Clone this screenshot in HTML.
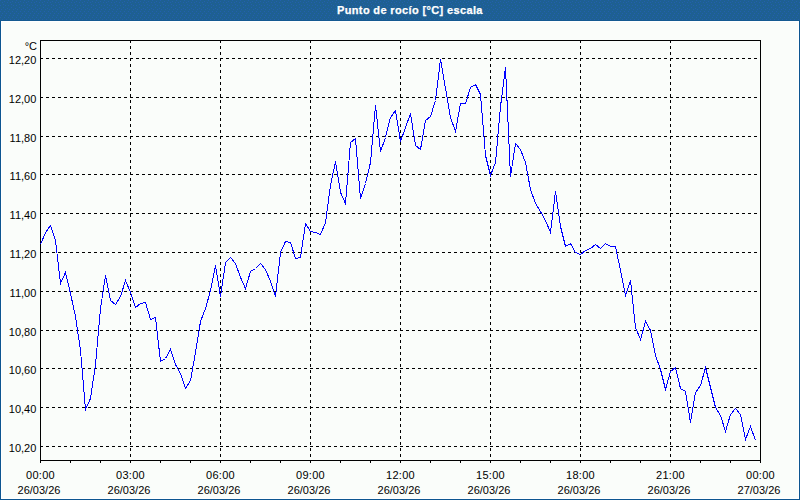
<!DOCTYPE html>
<html><head><meta charset="utf-8"><style>
html,body{margin:0;padding:0;}
body{width:800px;height:500px;position:relative;overflow:hidden;background:#fafdfa;font-family:"Liberation Sans",sans-serif;}
#frame{position:absolute;left:0;top:0;width:798px;height:499px;border-left:1px solid #0c5590;border-right:1px solid #0c5590;border-bottom:1px solid #0c5590;}
#inner{position:absolute;left:1px;top:21px;width:798px;height:478px;border:1px solid #fff;box-sizing:border-box;}
#bar{position:absolute;left:0;top:0;width:800px;height:20px;background:#1e6092;border-bottom:1px solid #145a91;}
#title{position:absolute;left:337px;top:4px;color:#fff;font-weight:bold;font-size:11px;white-space:nowrap;letter-spacing:0.36px;-webkit-text-stroke:0.25px #fff;}
.t{position:absolute;font-size:11px;color:#000;white-space:nowrap;line-height:13px;}
.r{text-align:right;}
.c{width:80px;text-align:center;}
svg{position:absolute;left:0;top:0;}
</style></head><body>
<div id="frame"></div>
<div id="inner"></div>
<div id="bar"></div>
<svg width="800" height="500" viewBox="0 0 800 500" shape-rendering="crispEdges">
<defs><pattern id="dp" width="8" height="20" patternUnits="userSpaceOnUse"><g fill="#2360ae"><rect x="0" y="0" width="1" height="1"/><rect x="4" y="1" width="1" height="1"/><rect x="2" y="2" width="1" height="1"/><rect x="7" y="2" width="1" height="1"/><rect x="3" y="4" width="1" height="1"/><rect x="0" y="5" width="1" height="1"/><rect x="5" y="5" width="1" height="1"/><rect x="3" y="7" width="1" height="1"/><rect x="7" y="8" width="1" height="1"/><rect x="1" y="9" width="1" height="1"/><rect x="5" y="9" width="1" height="1"/><rect x="0" y="11" width="1" height="1"/><rect x="4" y="11" width="1" height="1"/><rect x="2" y="13" width="1" height="1"/><rect x="6" y="13" width="1" height="1"/><rect x="1" y="15" width="1" height="1"/><rect x="5" y="15" width="1" height="1"/><rect x="0" y="17" width="1" height="1"/><rect x="4" y="17" width="1" height="1"/><rect x="2" y="19" width="1" height="1"/><rect x="6" y="19" width="1" height="1"/></g></pattern></defs><rect x="0" y="0" width="800" height="20" fill="url(#dp)"/>
<line x1="40" y1="58.5" x2="760" y2="58.5" stroke="#000" stroke-dasharray="3 3"/>
<line x1="40" y1="97.5" x2="760" y2="97.5" stroke="#000" stroke-dasharray="3 3"/>
<line x1="40" y1="136.5" x2="760" y2="136.5" stroke="#000" stroke-dasharray="3 3"/>
<line x1="40" y1="174.5" x2="760" y2="174.5" stroke="#000" stroke-dasharray="3 3"/>
<line x1="40" y1="213.5" x2="760" y2="213.5" stroke="#000" stroke-dasharray="3 3"/>
<line x1="40" y1="252.5" x2="760" y2="252.5" stroke="#000" stroke-dasharray="3 3"/>
<line x1="40" y1="291.5" x2="760" y2="291.5" stroke="#000" stroke-dasharray="3 3"/>
<line x1="40" y1="330.5" x2="760" y2="330.5" stroke="#000" stroke-dasharray="3 3"/>
<line x1="40" y1="368.5" x2="760" y2="368.5" stroke="#000" stroke-dasharray="3 3"/>
<line x1="40" y1="407.5" x2="760" y2="407.5" stroke="#000" stroke-dasharray="3 3"/>
<line x1="40" y1="446.5" x2="760" y2="446.5" stroke="#000" stroke-dasharray="3 3"/>
<line x1="130.5" y1="40" x2="130.5" y2="460" stroke="#000" stroke-dasharray="3 3"/>
<line x1="220.5" y1="40" x2="220.5" y2="460" stroke="#000" stroke-dasharray="3 3"/>
<line x1="310.5" y1="40" x2="310.5" y2="460" stroke="#000" stroke-dasharray="3 3"/>
<line x1="400.5" y1="40" x2="400.5" y2="460" stroke="#000" stroke-dasharray="3 3"/>
<line x1="490.5" y1="40" x2="490.5" y2="460" stroke="#000" stroke-dasharray="3 3"/>
<line x1="580.5" y1="40" x2="580.5" y2="460" stroke="#000" stroke-dasharray="3 3"/>
<line x1="670.5" y1="40" x2="670.5" y2="460" stroke="#000" stroke-dasharray="3 3"/>
<rect x="40.5" y="40.5" width="720" height="420" fill="none" stroke="#000"/>
<line x1="40.5" y1="461" x2="40.5" y2="463" stroke="#000"/>
<line x1="70.5" y1="461" x2="70.5" y2="463" stroke="#000"/>
<line x1="100.5" y1="461" x2="100.5" y2="463" stroke="#000"/>
<line x1="130.5" y1="461" x2="130.5" y2="463" stroke="#000"/>
<line x1="160.5" y1="461" x2="160.5" y2="463" stroke="#000"/>
<line x1="190.5" y1="461" x2="190.5" y2="463" stroke="#000"/>
<line x1="220.5" y1="461" x2="220.5" y2="463" stroke="#000"/>
<line x1="250.5" y1="461" x2="250.5" y2="463" stroke="#000"/>
<line x1="280.5" y1="461" x2="280.5" y2="463" stroke="#000"/>
<line x1="310.5" y1="461" x2="310.5" y2="463" stroke="#000"/>
<line x1="340.5" y1="461" x2="340.5" y2="463" stroke="#000"/>
<line x1="370.5" y1="461" x2="370.5" y2="463" stroke="#000"/>
<line x1="400.5" y1="461" x2="400.5" y2="463" stroke="#000"/>
<line x1="430.5" y1="461" x2="430.5" y2="463" stroke="#000"/>
<line x1="460.5" y1="461" x2="460.5" y2="463" stroke="#000"/>
<line x1="490.5" y1="461" x2="490.5" y2="463" stroke="#000"/>
<line x1="520.5" y1="461" x2="520.5" y2="463" stroke="#000"/>
<line x1="550.5" y1="461" x2="550.5" y2="463" stroke="#000"/>
<line x1="580.5" y1="461" x2="580.5" y2="463" stroke="#000"/>
<line x1="610.5" y1="461" x2="610.5" y2="463" stroke="#000"/>
<line x1="640.5" y1="461" x2="640.5" y2="463" stroke="#000"/>
<line x1="670.5" y1="461" x2="670.5" y2="463" stroke="#000"/>
<line x1="700.5" y1="461" x2="700.5" y2="463" stroke="#000"/>
<line x1="730.5" y1="461" x2="730.5" y2="463" stroke="#000"/>
<line x1="760.5" y1="461" x2="760.5" y2="463" stroke="#000"/>
<polyline points="40.5,244.5 45.5,232.5 50.5,225.5 55.5,240.5 60.5,283.5 65.5,272.5 70.5,293.5 75.5,316.5 80.5,350.5 85.5,409.5 90.5,398.5 95.5,364.5 100.5,308.5 105.5,275.5 110.5,300.5 115.5,304.5 120.5,296.5 125.5,280.5 130.5,292.5 135.5,307.5 140.5,303.5 145.5,302.5 150.5,319.5 155.5,317.5 160.5,361.5 165.5,358.5 170.5,349.5 175.5,364.5 180.5,373.5 185.5,388.5 190.5,380.5 195.5,352.5 200.5,321.5 205.5,308.5 210.5,290.5 215.5,265.5 220.5,296.5 225.5,262.5 230.5,257.5 235.5,263.5 240.5,277.5 245.5,288.5 250.5,271.5 255.5,268.5 260.5,263.5 265.5,269.5 270.5,281.5 275.5,296.5 280.5,252.5 285.5,241.5 290.5,242.5 295.5,258.5 300.5,257.5 305.5,223.5 310.5,231.5 315.5,232.5 320.5,234.5 325.5,222.5 330.5,185.5 335.5,161.5 340.5,192.5 345.5,203.5 350.5,142.5 355.5,138.5 360.5,198.5 365.5,183.5 370.5,162.5 375.5,105.5 380.5,151.5 385.5,137.5 390.5,117.5 395.5,110.5 400.5,141.5 405.5,127.5 410.5,113.5 415.5,145.5 420.5,149.5 425.5,120.5 430.5,116.5 435.5,100.5 440.5,59.5 445.5,88.5 450.5,117.5 455.5,131.5 460.5,103.5 465.5,103.5 470.5,87.5 475.5,84.5 480.5,94.5 485.5,155.5 490.5,175.5 495.5,162.5 500.5,106.5 505.5,67.5 510.5,176.5 515.5,143.5 520.5,149.5 525.5,162.5 530.5,189.5 535.5,203.5 540.5,211.5 545.5,220.5 550.5,232.5 555.5,191.5 560.5,226.5 565.5,246.5 570.5,243.5 575.5,252.5 580.5,254.5 585.5,250.5 590.5,248.5 595.5,244.5 600.5,248.5 605.5,243.5 610.5,246.5 615.5,246.5 620.5,270.5 625.5,295.5 630.5,280.5 635.5,327.5 640.5,339.5 645.5,321.5 650.5,330.5 655.5,355.5 660.5,369.5 665.5,389.5 670.5,371.5 675.5,367.5 680.5,388.5 685.5,391.5 690.5,422.5 695.5,392.5 700.5,385.5 705.5,367.5 710.5,387.5 715.5,407.5 720.5,415.5 725.5,431.5 730.5,414.5 735.5,408.5 740.5,414.5 745.5,439.5 750.5,426.5 755.5,440.5" fill="none" stroke="#0000ff" stroke-width="1" stroke-linejoin="miter"/>
</svg>
<div id="title">Punto de rocío [°C] escala</div>
<div class="t r" style="right:763px;top:40px">°C</div>
<div class="t r" style="right:763.7px;top:54px">12,20</div>
<div class="t r" style="right:763.7px;top:93px">12,00</div>
<div class="t r" style="right:763.7px;top:132px">11,80</div>
<div class="t r" style="right:763.7px;top:170px">11,60</div>
<div class="t r" style="right:763.7px;top:209px">11,40</div>
<div class="t r" style="right:763.7px;top:248px">11,20</div>
<div class="t r" style="right:763.7px;top:287px">11,00</div>
<div class="t r" style="right:763.7px;top:326px">10,80</div>
<div class="t r" style="right:763.7px;top:364px">10,60</div>
<div class="t r" style="right:763.7px;top:403px">10,40</div>
<div class="t r" style="right:763.7px;top:442px">10,20</div>
<div class="t c" style="left:0.5px;top:469px;letter-spacing:0.25px">00:00</div>
<div class="t c" style="left:-1px;top:484px">26/03/26</div>
<div class="t c" style="left:90.5px;top:469px;letter-spacing:0.25px">03:00</div>
<div class="t c" style="left:89px;top:484px">26/03/26</div>
<div class="t c" style="left:180.5px;top:469px;letter-spacing:0.25px">06:00</div>
<div class="t c" style="left:179px;top:484px">26/03/26</div>
<div class="t c" style="left:270.5px;top:469px;letter-spacing:0.25px">09:00</div>
<div class="t c" style="left:269px;top:484px">26/03/26</div>
<div class="t c" style="left:360.5px;top:469px;letter-spacing:0.25px">12:00</div>
<div class="t c" style="left:359px;top:484px">26/03/26</div>
<div class="t c" style="left:450.5px;top:469px;letter-spacing:0.25px">15:00</div>
<div class="t c" style="left:449px;top:484px">26/03/26</div>
<div class="t c" style="left:540.5px;top:469px;letter-spacing:0.25px">18:00</div>
<div class="t c" style="left:539px;top:484px">26/03/26</div>
<div class="t c" style="left:630.5px;top:469px;letter-spacing:0.25px">21:00</div>
<div class="t c" style="left:629px;top:484px">26/03/26</div>
<div class="t c" style="left:720.5px;top:469px;letter-spacing:0.25px">00:00</div>
<div class="t c" style="left:719px;top:484px">27/03/26</div>
</body></html>
